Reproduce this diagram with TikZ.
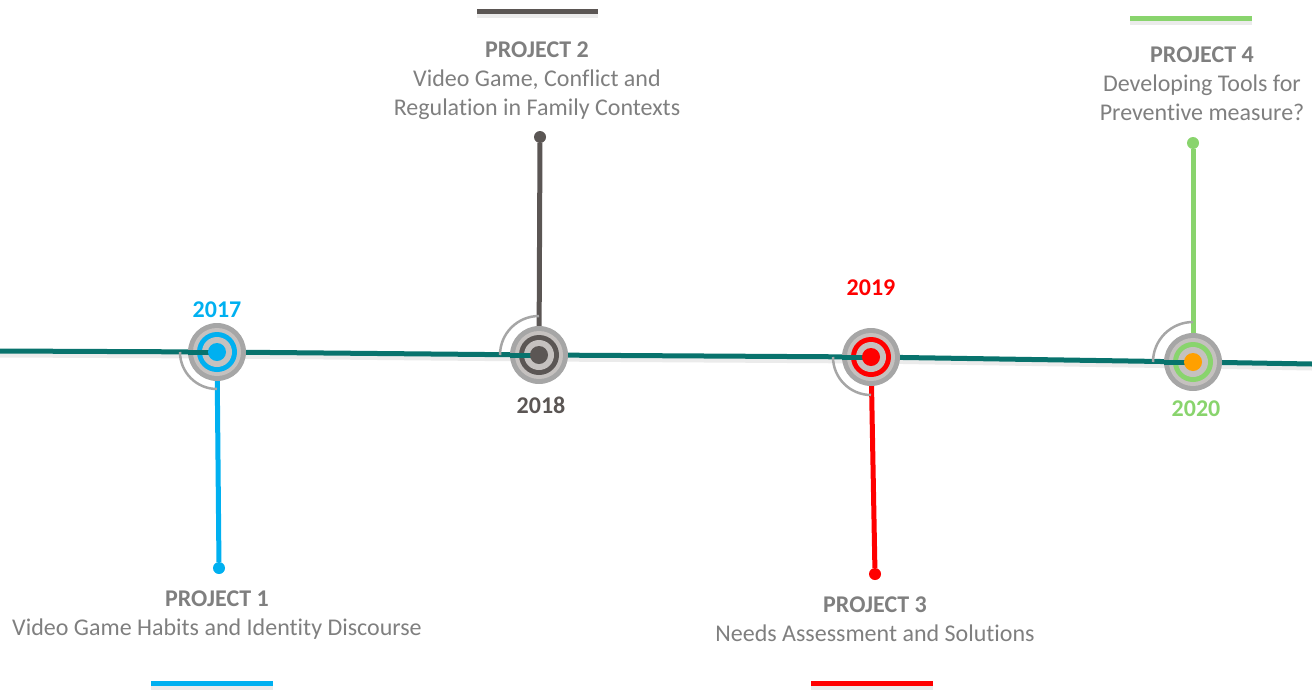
\documentclass[tikz,border=0pt]{standalone}
\usepackage{fontspec}
\setmainfont[Ligatures=NoCommon]{Carlito}
\usepackage{tikz}

\definecolor{tline}{HTML}{08736D}
\definecolor{pblue}{HTML}{00B0F0}
\definecolor{pgray}{HTML}{5B5654}
\definecolor{pred}{HTML}{FF0000}
\definecolor{pgreen}{HTML}{89D46D}
\definecolor{porange}{HTML}{FFA000}
\definecolor{txtgray}{HTML}{7F7F7F}
\definecolor{ringdark}{HTML}{A6A6A6}
\definecolor{ringlight}{HTML}{C5C1BF}

\tikzset{
  ring/.style={circle, inner sep=0pt, minimum size=58pt, fill=ringdark},
  enddot/.style={circle, inner sep=0pt, minimum size=12pt},
  year/.style={font=\bfseries\fontsize{24}{29}\selectfont},
  proj/.style={font=\fontsize{24}{29}\selectfont, text=txtgray, align=center},
  tl/.style={line width=5pt, draw=tline},
  stem/.style={line width=5pt},
  bar/.style={line width=5pt},
  arcline/.style={line width=2.5pt, draw=ringdark},
  shade/.style={line width=7pt, draw=black, opacity=0.08, transform canvas={yshift=-3pt}}
}

\begin{document}
\begin{tikzpicture}[x=1pt, y=1pt]
\useasboundingbox (0,0) rectangle (1312,-691);

\coordinate (l) at (0,-351);
\coordinate (a) at (217,-352);
\coordinate (b) at (539,-355);
\coordinate (c) at (871,-357);
\coordinate (d) at (1193,-362);
\coordinate (r) at (1312,-364);

% soft shadows
\draw [shade] (l) -- (a) -- (b) -- (c) -- (d) -- (r);
\draw [shade] (151,-683) -- (273,-683);
\draw [shade] (477,-11) -- (598,-11);
\draw [shade] (811,-683) -- (933,-683);
\draw [shade] (1130,-18) -- (1252,-18);

% time line
\draw [tl] (l) -- (a) -- (b) -- (c) -- (d) -- (r);

% stems
\node [enddot, fill=pblue] (e1) at (219,-568) {};
\node [enddot, fill=pgray] (e2) at (540,-137) {};
\node [enddot, fill=pred] (e3) at (875,-574) {};
\node [enddot, fill=pgreen] (e4) at (1193,-143) {};
\draw [stem, pblue] (a) -- (e1);
\draw [stem, pgray] (b) -- (e2);
\draw [stem, pred] (c) -- (e3);
\draw [stem, pgreen] (d) -- (e4);

% arcs
\draw [arcline] ([shift={(180:37pt)}]a) arc (180:270:37pt);
\draw [arcline] ([shift={(180:39pt)}]b) arc (180:90:39pt);
\draw [arcline] ([shift={(180:38pt)}]c) arc (180:270:38pt);
\draw [arcline] ([shift={(180:40pt)}]d) arc (180:90:40pt);

% markers
\node [ring] (ma) at (a) {};
\fill [ringlight] (a) circle (24pt);
\fill [pblue] (a) circle (20pt);
\fill [ringlight] (a) circle (15pt);
\draw [tl] (ma.west) -- (a);
\fill [pblue] (a) circle (9pt);

\node [ring] (mb) at (b) {};
\fill [ringlight] (b) circle (24pt);
\fill [pgray] (b) circle (20pt);
\fill [ringlight] (b) circle (15pt);
\draw [tl] (mb.west) -- (b);
\fill [pgray] (b) circle (9pt);

\node [ring] (mc) at (c) {};
\fill [ringlight] (c) circle (24pt);
\fill [pred] (c) circle (20pt);
\fill [ringlight] (c) circle (15pt);
\draw [tl] (mc.west) -- (c);
\fill [pred] (c) circle (9pt);

\node [ring] (md) at (d) {};
\fill [ringlight] (d) circle (24pt);
\fill [pgreen] (d) circle (20pt);
\fill [ringlight] (d) circle (15pt);
\draw [tl] (md.west) -- (d);
\fill [porange] (d) circle (9pt);

% years
\node [year, text=pblue] (y1) at (217,-310) {2017};
\node [year, text=pgray] (y2) at (541,-405) {2018};
\node [year, text=pred] (y3) at (871,-288) {2019};
\node [year, text=pgreen] (y4) at (1196,-409) {2020};

% projects
\node [proj] (p1) at (217,-615) {\textbf{PROJECT 1}\\Video Game Habits and Identity Discourse};
\node [proj] (p2) at (537,-81) {\textbf{PROJECT 2}\\Video Game, Conflict and\\Regulation in Family Contexts};
\node [proj] (p3) at (875,-619) {\textbf{PROJECT 3}\\Needs Assessment and Solutions};
\node [proj] (p4) at (1202,-84) {\textbf{PROJECT 4}\\Developing Tools for\\Preventive measure?};

% bars
\draw [bar, pblue] (151,-683) -- (273,-683);
\draw [bar, pgray] (477,-11) -- (598,-11);
\draw [bar, pred] (811,-683) -- (933,-683);
\draw [bar, pgreen] (1130,-18) -- (1252,-18);
\end{tikzpicture}
\end{document}
